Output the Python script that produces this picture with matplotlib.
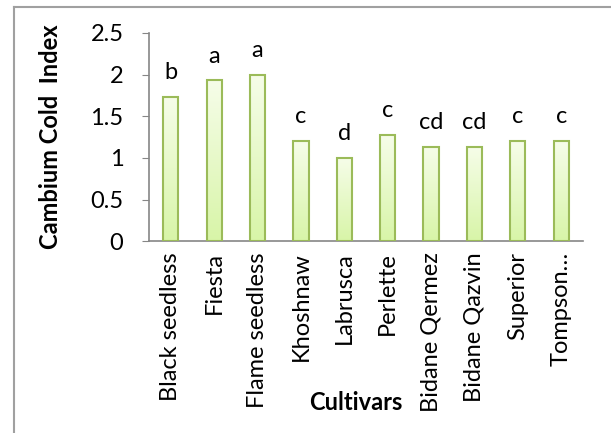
import numpy as np
import matplotlib.pyplot as plt
from matplotlib.patches import Rectangle
from matplotlib.colors import LinearSegmentedColormap

cultivars = ['Black seedless', 'Fiesta', 'Flame seedless', 'Khoshnaw', 'Labrusca',
             'Perlette', 'Bidane Qermez', 'Bidane Qazvin', 'Superior', 'Tompson…']
cold_index = [1.73, 1.93, 2.0, 1.2, 1.0, 1.27, 1.13, 1.13, 1.2, 1.2]
groups = ['b', 'a', 'a', 'c', 'd', 'c', 'cd', 'cd', 'c', 'c']

plt.rcParams['font.family'] = ['Lato', 'DejaVu Sans']
fs = 17

fig = plt.figure(figsize=(6.11, 4.33), dpi=100)
ax = fig.add_axes([0.244, 0.443, 0.710, 0.481])

# outer frame (only left and top visible in the original crop)
fig.add_artist(plt.Line2D([14/611, 14/611], [0, 1 - 7/433], color='#a0a0a0', lw=1.5,
                          transform=fig.transFigure))
fig.add_artist(plt.Line2D([14/611, 1], [1 - 7/433, 1 - 7/433], color='#a0a0a0', lw=1.5,
                          transform=fig.transFigure))

x = np.arange(len(cultivars))
bars = ax.bar(x, cold_index, width=0.35, color='none', edgecolor='#9bbb59', linewidth=1.5, zorder=3)

# white-to-light-green gradient inside each bar
grad = np.linspace(0, 1, 100).reshape(-1, 1)
cmap = LinearSegmentedColormap.from_list('g', ['#f6fde9', '#d8f5a8'])
for b in bars:
    x0, w, h = b.get_x(), b.get_width(), b.get_height()
    im = ax.imshow(grad, extent=[x0, x0 + w, 0, h], cmap=cmap, aspect='auto', zorder=2)
    im.set_clip_path(Rectangle((x0, 0), w, h, transform=ax.transData))

for xi, v, g in zip(x, cold_index, groups):
    ax.annotate(g, (xi, v), xytext=(0, 10), textcoords='offset points',
                ha='center', va='bottom', fontsize=fs)

ax.set_xlim(-0.5, len(cultivars) - 0.5)
ax.set_ylim(0, 2.5)
ax.set_yticks([0, 0.5, 1, 1.5, 2, 2.5])
ax.set_yticklabels(['0', '0.5', '1', '1.5', '2', '2.5'])
ax.set_xticks(x)
ax.set_xticklabels(cultivars, rotation=90)

for s in ['top', 'right']:
    ax.spines[s].set_visible(False)
for s in ['left', 'bottom']:
    ax.spines[s].set_color('#868686')
    ax.spines[s].set_linewidth(1.2)

ax.tick_params(axis='y', length=5, color='#868686', labelsize=fs, pad=13.5)
ax.tick_params(axis='x', length=0, labelsize=fs, pad=8)

ax.set_ylabel('Cambium Cold  Index', fontsize=fs, fontweight='bold', labelpad=20)
fig.text(356/611, 1 - 403/433, 'Cultivars', ha='center', va='center', fontsize=fs, fontweight='bold')

fig.savefig('out.png', dpi=100)
